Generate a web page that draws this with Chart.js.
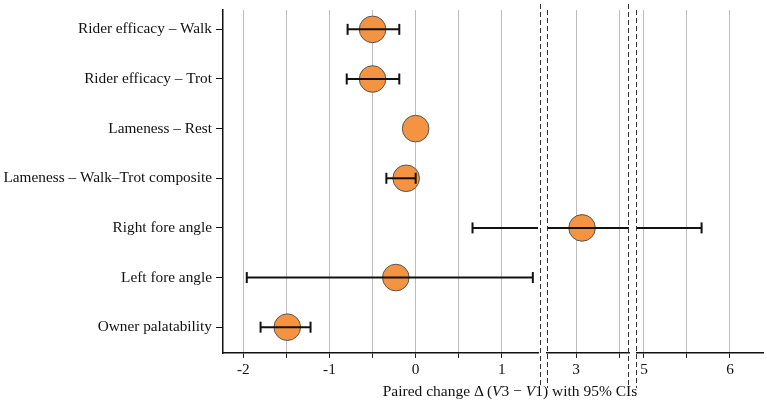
<!DOCTYPE html>
<html><head><meta charset="utf-8">
<script src="https://cdn.jsdelivr.net/npm/chart.js@4/dist/chart.umd.min.js"></script>
<style>
html,body{margin:0;padding:0;background:#fff;}
#wrap{position:relative;width:767px;height:404px;overflow:hidden;background:#fff;}
#wrap canvas{position:absolute;left:0;top:0;}
#xtitle{position:absolute;left:310px;width:400px;top:382px;text-align:center;font-family:'Liberation Serif','Times New Roman',serif;font-size:15.5px;color:#111;line-height:18px;white-space:nowrap;}
</style></head><body>
<div id="wrap">
<canvas id="c1" width="767" height="404"></canvas>
<canvas id="c2" width="767" height="404"></canvas>
<canvas id="c3" width="767" height="404"></canvas>
<div id="xtitle">Paired change Δ (<i>V</i>3 − <i>V</i>1) with 95% CIs</div>
</div>
<script>
// ---- data ----
const categories = [
  'Rider efficacy – Walk',
  'Rider efficacy – Trot',
  'Lameness – Rest',
  'Lameness – Walk–Trot composite',
  'Right fore angle',
  'Left fore angle',
  'Owner palatability'
];
const estimates = [-0.50, -0.50, 0.00, -0.11, 3.07, -0.23, -1.49];
const ciLow     = [-0.79, -0.80, null, -0.34, 0.66, -1.96, -1.80];
const ciHigh    = [-0.19, -0.19, null,  0.00, 5.67,  1.36, -1.22];
const xTickValues = [-2, -1, 0, 1, 3, 5, 6];
// broken x axis: three visible ranges
const xRanges = [[-2.236, 1.42], [2.663, 3.615], [4.919, 6.384]];
const gridStep = 0.5;

const FONT = {family: "'Liberation Serif','Times New Roman',serif", size: 15.3};
const TXT = '#111';

const breakPlugin = {
  id: 'breaks',
  afterDraw(chart, args, opts) {
    const ctx = chart.ctx, a = chart.chartArea;
    ctx.save();
    ctx.strokeStyle = '#333';
    ctx.lineWidth = 1;
    ctx.setLineDash([5, 3]);
    (opts.lines || []).forEach(l => {
      const x = Math.round((l.side === 'left' ? a.left : a.right) + l.dx) + 0.5;
      ctx.beginPath();
      ctx.moveTo(x, l.top);
      ctx.lineTo(x, 388);
      ctx.stroke();
    });
    ctx.restore();
  }
};

function buildDatasets() {
  const ds = [];
  categories.forEach((c, i) => {
    if (ciLow[i] === null || ciHigh[i] === null) return;
    ds.push({
      type: 'scatter',
      data: [{x: ciLow[i], y: i}, {x: ciHigh[i], y: i}],
      showLine: true,
      borderColor: '#111',
      borderWidth: 2,
      pointStyle: 'line',
      pointRotation: 90,
      pointRadius: 5.5,
      pointBorderWidth: 2,
      pointBorderColor: '#111',
      pointBackgroundColor: '#111',
      order: 0
    });
  });
  ds.push({
    type: 'scatter',
    data: estimates.map((v, i) => ({x: v, y: i})),
    pointRadius: 13.3,
    pointBackgroundColor: '#F49342',
    pointBorderColor: '#555',
    pointBorderWidth: 1,
    order: 1
  });
  return ds;
}

function gridTicks(min, max) {
  const out = [];
  for (let k = Math.ceil(min / gridStep); k * gridStep <= max + 1e-9; k++) {
    out.push({value: Math.round(k * gridStep * 1000) / 1000});
  }
  return out;
}

function makeChart(id, range, padLeft, padRight, showY, lines) {
  return new Chart(document.getElementById(id), {
    type: 'scatter',
    data: {datasets: buildDatasets()},
    plugins: [breakPlugin],
    options: {
      responsive: false,
      animation: false,
      events: [],
      layout: {autoPadding: false, padding: {left: padLeft, right: padRight, top: 10, bottom: 0}},
      plugins: {legend: {display: false}, tooltip: {enabled: false}, breaks: {lines}},
      scales: {
        x: {
          type: 'linear', min: range[0], max: range[1],
          ticks: {autoSkip: false, maxRotation: 0, minRotation: 0, padding: 3,
                  font: FONT, color: TXT,
                  callback: v => xTickValues.includes(v) ? String(v) : ''},
          afterBuildTicks: s => { s.ticks = gridTicks(range[0], range[1]); },
          grid: {color: '#bdbdbd', lineWidth: 1, tickLength: 5, tickColor: '#222', tickWidth: 1},
          border: {display: true, color: '#111', width: 1.5},
          afterFit: s => { s.height = 51; s.paddingLeft = 0; s.paddingRight = 0; }
        },
        y: {
          type: 'linear', reverse: true, min: -0.39, max: 6.52, display: showY,
          ticks: {autoSkip: false, padding: 4, font: FONT, color: TXT,
                  callback: v => categories[v] !== undefined ? categories[v] : ''},
          afterBuildTicks: s => { s.ticks = categories.map((c, i) => ({value: i})); },
          grid: {drawOnChartArea: false, tickLength: 7, tickColor: '#111', tickWidth: 1},
          border: {display: true, color: '#111', width: 1.5},
          afterFit: s => { s.width = showY ? 223 : 0; s.paddingTop = 0; s.paddingBottom = 0; }
        }
      }
    }
  });
}

makeChart('c1', xRanges[0], 0, 767 - 538, true, [{side: 'right', dx: 2, top: 4}]);
makeChart('c2', xRanges[1], 547, 767 - 629, false, [{side: 'left', dx: 0, top: 10}, {side: 'right', dx: -1, top: 4}]);
makeChart('c3', xRanges[2], 637, 767 - 763, false, [{side: 'left', dx: -1, top: 10}]);
</script>
</body></html>
